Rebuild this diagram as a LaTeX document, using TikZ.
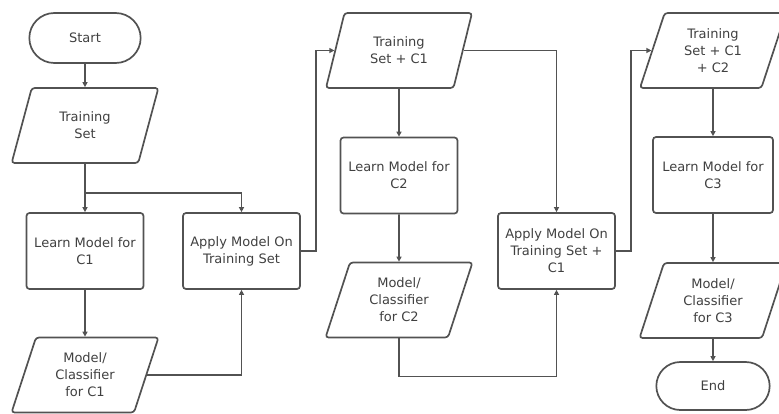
\documentclass[tikz,border=0pt]{standalone}
\usepackage{fontspec}
\setmainfont{DejaVu Sans}
\usetikzlibrary{shapes.geometric,shapes.misc,arrows.meta}

\begin{document}
\begin{tikzpicture}[x=1pt,y=-1pt,
  every node/.style={font=\fontsize{13}{17}\selectfont, text=black!75, align=center},
  line/.style={draw=black!68, line width=1.7pt},
  arr/.style={line, -{Triangle[length=5pt,width=5pt]}},
  term/.style={line, rounded rectangle, minimum width=118pt, minimum height=50pt},
  proc/.style={line, rectangle, rounded corners=3pt, minimum width=117pt, minimum height=76pt},
  data/.style={line, trapezium, trapezium left angle=72, trapezium right angle=108,
    trapezium stretches=true, rounded corners=3pt, minimum width=147pt, minimum height=75pt}]
\useasboundingbox (0,0) rectangle (779,413);

\node[term] (start) at (85,38) {Start};
\node[data] (ts) at (85,125.5) {Training\\Set};
\node[proc] (learn1) at (85,251) {Learn Model for\\C1};
\node[data] (model1) at (85,375) {Model/\\Classifier\\for C1};
\node[proc] (apply1) at (241.5,251) {Apply Model On\\Training Set};

\node[data] (tsc1) at (399,50.5) {Training\\Set + C1};
\node[proc] (learn2) at (399,175.5) {Learn Model for\\C2};
\node[data] (model2) at (399,300) {Model/\\Classifier\\for C2};
\node[proc] (apply2) at (556.5,251) {Apply Model On\\Training Set +\\C1};

\node[data] (tsc2) at (713,50.5) {Training\\Set + C1\\+ C2};
\node[proc, minimum width=120pt] (learn3) at (713,175) {Learn Model for\\C3};
\node[data] (model3) at (713,300.5) {Model/\\Classifier\\for C3};
\node[term, minimum width=120pt, minimum height=48pt] (end) at (713,386) {End};

\draw[arr] (start) -- (ts);
\draw[arr] (ts.south) -- (learn1.north);
\draw[arr] (ts.south) |- ([yshift=19pt]apply1.north) -- (apply1.north);
\draw[arr] (learn1) -- (model1);
\draw[arr] (model1.east) -| (apply1.south);
\draw[arr] (apply1.east) -- ([xshift=15pt]apply1.east) |- (tsc1.west);

\draw[arr] (tsc1) -- (learn2);
\draw[arr] (learn2) -- (model2);
\draw[arr] (tsc1.east) -| (apply2.north);
\draw[arr] (model2.south) -- ([yshift=-38pt]model2.south) -| (apply2.south);
\draw[arr] (apply2.east) -- ([xshift=15pt]apply2.east) |- (tsc2.west);

\draw[arr] (tsc2) -- (learn3);
\draw[arr] (learn3) -- (model3);
\draw[arr] (model3) -- (end);
\end{tikzpicture}
\end{document}
